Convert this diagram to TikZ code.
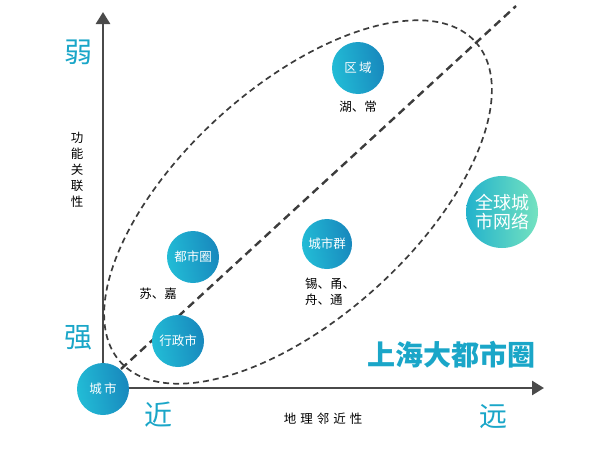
\documentclass[tikz,border=0pt]{standalone}
\usepackage{fontspec}
\setmainfont{Noto Sans CJK SC}
\usetikzlibrary{arrows.meta}
\definecolor{teal1}{HTML}{1AA6C8}
\definecolor{cl}{HTML}{22BCD6}
\definecolor{cr}{HTML}{1888BD}
\definecolor{gl}{HTML}{22B2CC}
\definecolor{gr}{HTML}{74E2C0}
\definecolor{axis}{HTML}{4A4A4A}
\definecolor{dash}{HTML}{3C3C3C}
\tikzset{
  bubble/.style={circle, minimum size=52pt, inner sep=0pt, left color=cl, right color=cr, shading angle=100, text=white, font=\fontsize{12.5}{14}\selectfont},
  bigbubble/.style={circle, minimum size=72pt, inner sep=0pt, left color=gl, right color=gr, text=white, align=center, font=\fontsize{18}{21}\selectfont},
  axisline/.style={draw=axis, line width=2.6pt, -{Triangle[width=14pt,length=12pt]}},
  diag/.style={draw=dash, line width=2.4pt, dash pattern=on 8pt off 5pt},
  ring/.style={draw=dash, line width=1.7pt, dash pattern=on 6pt off 4pt},
  bigword/.style={text=teal1, font=\fontsize{28}{30}\selectfont},
  small/.style={text=black, font=\fontsize{12.5}{15}\selectfont, inner sep=0pt},
  title/.style={text=teal1, font=\bfseries\fontsize{28}{30}\selectfont}
}
\begin{document}
\begin{tikzpicture}[x=1pt,y=-1pt]
\useasboundingbox (0,0) rectangle (607,450);
% axes
\coordinate (O) at (103,388);
\coordinate (ytop) at (103,12);
\coordinate (xend) at (544,388);
\draw[axisline] (O) -- (ytop);
\draw[axisline] (O) -- (xend);
% dashed ellipse and diagonal
\draw[ring, rotate around={42:(298,202)}] (298,202) ellipse (239 and 116);
\coordinate (d0) at (121,369);
\coordinate (d1) at (516,6);
\draw[diag] (d0) -- (d1);
% bubbles
\node[bubble] (city) at (103,389) {城\,市};
\node[bubble] (admin) at (178,341) {行政市};
\node[bubble] (metro) at (193,257) {都市圈};
\node[bubble, minimum size=50pt] (cluster) at (327,244) {城市群};
\node[bubble] (region) at (358,68) {区\,域};
\node[bigbubble] (global) at (502,212) {全球城\\[-2pt]市网络};
% labels
\node[small] (sj) at (158,294) {苏、嘉};
\node[small] (hc) at (358,107) {湖、常};
\node[small, align=left] (xy) at (330,292) {锡、甬、\\[1pt]舟、通};
\node[small, align=center] (ylab) at (77,170) {功\\[1pt]能\\[1pt]关\\[1pt]联\\[1pt]性};
\node[small] (xlab) at (323,419) {地\hspace{4pt}理\hspace{4pt}邻\hspace{4pt}近\hspace{4pt}性};
\node[bigword] (weak) at (78,52) {弱};
\node[bigword] (strong) at (78,338) {强};
\node[bigword] (near) at (158,415) {近};
\node[bigword] (far) at (493,417) {远};
\node[title] (sh) at (451,355) {上海大都市圈};
\end{tikzpicture}
\end{document}
